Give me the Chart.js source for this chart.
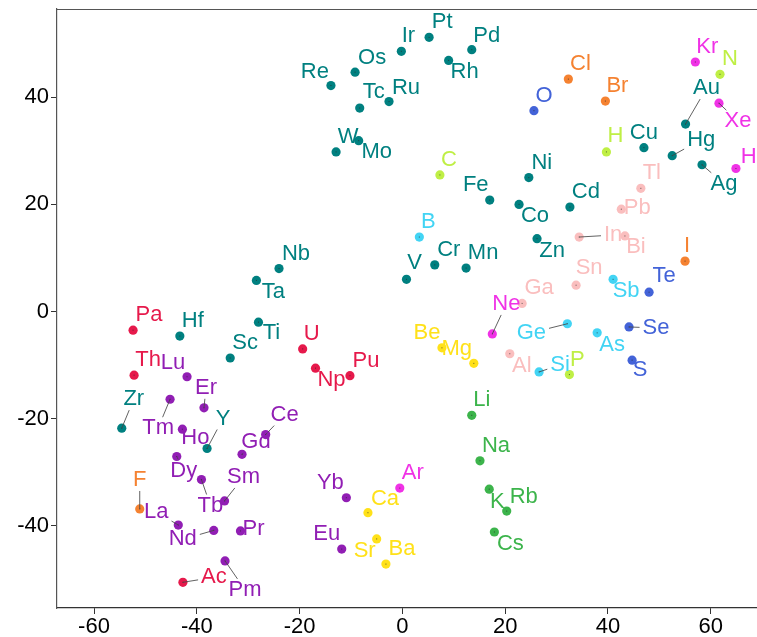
<!DOCTYPE html>
<html>
<head>
<meta charset="utf-8">
<script src="https://cdn.jsdelivr.net/npm/chart.js@4.4.1/dist/chart.umd.min.js"></script>
<style>
  html, body { margin: 0; padding: 0; background: #fff; overflow: hidden; }
  canvas { display: block; }
</style>
</head>
<body>
<canvas id="elements" width="757" height="637"></canvas>
<script>
// element embedding, one entry per element
var elements = [
  "Re", "Os", "Ir", "Pt", "Pd", "Rh", "Tc", "Ru", "W", "Mo", "Ni", "Fe", "Co", "Cd", "Zn",
  "Cu", "Au", "Hg", "Ag", "Cr", "Mn", "V", "Nb", "Ta", "Ti", "Sc", "Hf", "Zr", "Y",
  "Cl", "Br", "I", "F",
  "O", "Te", "Se", "S",
  "N", "H", "C", "P",
  "Kr", "Xe", "He", "Ne", "Ar",
  "Tl", "Pb", "In", "Bi", "Sn", "Ga", "Al",
  "B", "Sb", "Ge", "As", "Si",
  "Be", "Mg", "Ca", "Sr", "Ba",
  "Li", "Na", "K", "Rb", "Cs",
  "Pa", "Th", "U", "Np", "Pu", "Ac",
  "Lu", "Er", "Tm", "Ho", "Ce", "Gd", "Dy", "Tb", "Sm", "La", "Nd", "Pr", "Pm", "Yb", "Eu"
];
var xVals = [
  -13.9, -9.2, -0.2, 5.2, 13.5, 9.0, -8.3, -2.6, -12.9, -8.5, 24.6, 17.0, 22.7, 32.6, 26.2,
  47.0, 55.1, 52.5, 58.3, 6.3, 12.4, 0.8, -24.0, -28.4, -28.0, -33.5, -43.3, -54.6, -38.0,
  32.3, 39.5, 55.0, -51.1,
  25.6, 48.0, 44.1, 44.7,
  61.8, 39.7, 7.3, 32.5,
  57.0, 61.6, 64.9, 17.5, -0.5,
  46.4, 42.6, 34.4, 43.3, 33.8, 23.3, 20.9,
  3.3, 41.0, 32.1, 37.9, 26.6,
  7.7, 13.9, -6.7, -5.0, -3.2,
  13.5, 15.1, 16.9, 20.3, 17.9,
  -52.4, -52.2, -19.4, -16.9, -10.2, -42.7,
  -41.9, -38.6, -45.2, -42.8, -26.6, -31.2, -43.9, -39.1, -34.6, -43.6, -36.7, -31.5, -34.5, -10.9, -11.8
];
var yVals = [
  42.2, 44.7, 48.6, 51.2, 48.9, 46.9, 38.0, 39.2, 29.8, 31.9, 25.0, 20.8, 20.0, 19.5, 13.6,
  30.6, 35.0, 29.1, 27.4, 8.7, 8.1, 6.0, 8.0, 5.8, -2.0, -8.7, -4.6, -21.8, -25.6,
  43.4, 39.3, 9.4, -36.9,
  37.5, 3.6, -2.9, -9.1,
  44.3, 29.8, 25.5, -11.8,
  46.6, 38.9, 26.7, -4.2, -33.0,
  23.0, 19.1, 13.9, 14.1, 4.9, 1.5, -7.9,
  13.9, 6.0, -2.3, -4.0, -11.3,
  -6.8, -9.7, -37.6, -42.5, -47.2,
  -19.4, -27.9, -33.2, -37.3, -41.2,
  -3.5, -11.9, -7.0, -10.6, -12.0, -50.6,
  -12.2, -18.0, -16.4, -22.0, -23.0, -26.7, -27.1, -31.4, -35.4, -39.9, -40.9, -41.0, -46.6, -34.8, -44.4
];
// how many consecutive entries belong to each group
var groups = ["transition", "halogen", "chalcogen", "nonmetal", "noble", "post-transition",
  "metalloid", "alkaline earth", "alkali", "actinide", "lanthanide"];
var groupSizes = [29, 4, 4, 4, 5, 7, 5, 5, 5, 6, 15];

var xTicks = [-60, -40, -20, 0, 20, 40, 60];
var yTicks = [-40, -20, 0, 20, 40];

var groupColors = ["#008080", "#f58231", "#4363d8", "#bfef45", "#f032e6", "#fabebe",
  "#42d4f4", "#ffe119", "#3cb44b", "#e6194b", "#911eb4"];

// label placement in px relative to the dot: [dx, dy, leader line?]
var labelShift = {
  Re: [-16, -14], Os: [17, -14], Ir: [7, -15], Pt: [13, -15], Pd: [15, -14], Rh: [16, 12],
  Tc: [14, -16], Ru: [17, -14], W: [12, -15], Mo: [18, 11], Ni: [13, -15], Fe: [-14, -15],
  Co: [16, 12], Cd: [16, -15], Zn: [15, 12], Cu: [0, -15], Au: [21, -36, 1], Hg: [29, -16, 1],
  Ag: [22, 19, 1], Cr: [14, -15], Mn: [17, -15], V: [8, -16], Nb: [17, -15], Ta: [17, 12],
  Ti: [13, 11], Sc: [15, -15], Hf: [13, -15], Zr: [12, -29, 1], Y: [16, -30, 1],
  Cl: [12, -15], Br: [12, -15], I: [2, -15], F: [0, -29, 1],
  O: [10, -15], Te: [15, -16], Se: [27, 1, 1], S: [8, 10],
  N: [10, -15], H: [9, -16], C: [9, -15], P: [8, -15],
  Kr: [12, -15], Xe: [19, 18, 1], He: [19, -12], Ne: [14, -30, 1], Ar: [13, -15],
  Tl: [11, -15], Pb: [16, -1], In: [34, -2, 1], Bi: [11, 11], Sn: [13, -17], Ga: [17, -15], Al: [12, 12],
  B: [9, -15], Sb: [13, 12], Ge: [-36, 9, 1], As: [15, 12], Si: [21, -7, 1],
  Be: [-15, -15], Mg: [-17, -14], Ca: [17, -14], Sr: [-12, 12], Ba: [16, -15],
  Li: [10, -15], Na: [16, -15], K: [8, 13], Rb: [17, -14], Cs: [16, 12],
  Pa: [16, -15], Th: [14, -15], U: [9, -15], Np: [16, 12], Pu: [16, -15], Ac: [31, -5, 1],
  Lu: [-14, -14], Er: [2, -20, 1], Tm: [-12, 29, 1], Ho: [13, 9, 1], Ce: [19, -20, 1],
  Gd: [14, -12, 1], Dy: [7, 14, 1], Tb: [9, 26, 1], Sm: [19, -24, 1], La: [-22, -13, 1],
  Nd: [-31, 9, 1], Pr: [13, -2], Pm: [20, 29, 1], Yb: [-16, -15], Eu: [-15, -15]
};

var FONT = '"Liberation Sans", Arial, sans-serif';

var datasets = [];
var start = 0;
groups.forEach(function (g, gi) {
  var pts = [];
  for (var i = start; i < start + groupSizes[gi]; i++) {
    pts.push({ x: xVals[i], y: yVals[i], name: elements[i] });
  }
  start += groupSizes[gi];
  datasets.push({
    label: g,
    data: pts,
    backgroundColor: groupColors[gi],
    borderWidth: 0,
    pointRadius: 4.6,
    pointHoverRadius: 4.6
  });
});

// text labels with optional leader lines, plus the top frame line
var elementLabels = {
  id: "elementLabels",
  afterDatasetsDraw: function (chart) {
    var ctx = chart.ctx;
    var area = chart.chartArea;
    ctx.save();
    ctx.strokeStyle = "#555";
    ctx.lineWidth = 1.2;
    ctx.beginPath();
    ctx.moveTo(area.left, area.top + 0.5);
    ctx.lineTo(area.right, area.top + 0.5);
    ctx.stroke();

    ctx.font = "22px " + FONT;
    ctx.textAlign = "center";
    ctx.textBaseline = "middle";
    var items = [];
    chart.data.datasets.forEach(function (ds, di) {
      var meta = chart.getDatasetMeta(di);
      ds.data.forEach(function (p, i) {
        var el = meta.data[i];
        var s = labelShift[p.name] || [12, -15];
        items.push({ x: el.x, y: el.y, lx: el.x + s[0], ly: el.y + s[1], lead: s[2], name: p.name, color: ds.backgroundColor });
      });
    });
    // leader lines
    ctx.strokeStyle = "rgba(70,70,70,0.85)";
    ctx.lineWidth = 1;
    items.forEach(function (it) {
      ctx.fillStyle = "rgba(40,40,40,0.7)";
      ctx.fillRect(it.x - 0.5, it.y - 0.5, 1, 1);
      if (!it.lead) return;
      var hw = ctx.measureText(it.name).width / 2 + 3;
      var hh = 11;
      var dx = it.x - it.lx, dy = it.y - it.ly;
      var t = Math.min(dx !== 0 ? hw / Math.abs(dx) : 1e9, dy !== 0 ? hh / Math.abs(dy) : 1e9);
      if (t >= 1) return;
      ctx.beginPath();
      ctx.moveTo(it.lx + dx * t, it.ly + dy * t);
      ctx.lineTo(it.x, it.y);
      ctx.stroke();
    });
    items.forEach(function (it) {
      ctx.fillStyle = it.color;
      ctx.fillText(it.name, it.lx, it.ly);
    });
    ctx.restore();
  }
};

new Chart(document.getElementById("elements"), {
  type: "scatter",
  data: { datasets: datasets },
  options: {
    responsive: false,
    animation: false,
    layout: { autoPadding: false, padding: { top: 9, right: 0, left: 0, bottom: 0 } },
    plugins: { legend: { display: false }, tooltip: { enabled: false } },
    scales: {
      x: {
        min: -67.2,
        max: 69.0,
        afterBuildTicks: function (scale) {
          scale.ticks = xTicks.map(function (v) { return { value: v }; });
        },
        afterFit: function (scale) {
          scale.height = 29;
          scale.paddingLeft = 0;
          scale.paddingRight = 0;
        },
        grid: { drawOnChartArea: false, drawTicks: true, tickLength: 6, color: "#333" },
        border: { display: true, color: "#333", width: 1.2 },
        ticks: { color: "#000", padding: 0, font: { family: FONT, size: 22 }, maxRotation: 0 }
      },
      y: {
        min: -55.4,
        max: 56.5,
        afterBuildTicks: function (scale) {
          scale.ticks = yTicks.map(function (v) { return { value: v }; });
        },
        afterFit: function (scale) {
          scale.width = 57;
          scale.paddingTop = 0;
          scale.paddingBottom = 0;
        },
        grid: { drawOnChartArea: false, drawTicks: true, tickLength: 6, color: "#333" },
        border: { display: true, color: "#555", width: 1.2 },
        ticks: { color: "#000", padding: 2, font: { family: FONT, size: 22 } }
      }
    }
  },
  plugins: [elementLabels]
});
</script>
</body>
</html>
